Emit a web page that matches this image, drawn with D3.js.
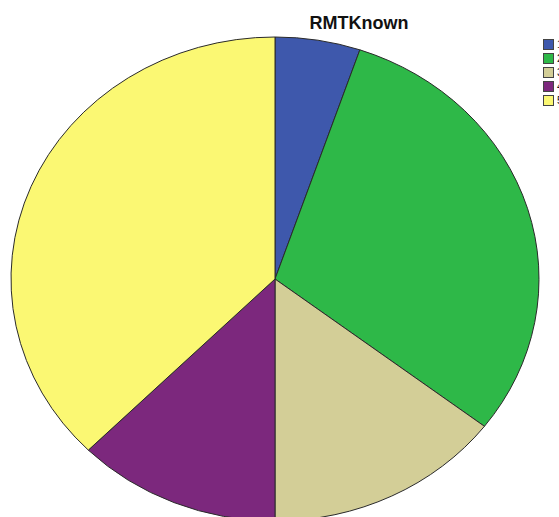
<!DOCTYPE html>
<html>
<head>
<meta charset="utf-8">
<script src="https://cdn.jsdelivr.net/npm/d3@7"></script>
<style>
  html, body { margin: 0; padding: 0; background: #ffffff; overflow: hidden; }
  svg { display: block; }
</style>
</head>
<body>
<script>
// Response categories and their counts for RMTKnown
const categories = ["1", "2", "3", "4", "5"];
const counts = [5, 29, 14, 12, 36];
const sliceColors = ["#3E58AC", "#2EB848", "#D3CE97", "#7C287D", "#FBF873"];
const chartTitle = "RMTKnown";

const width = 559, height = 517;
const cx = 275, cy = 279;
const rx = 264, ry = 242;

const svg = d3.select("body").append("svg")
  .attr("width", width)
  .attr("height", height);

const color = d3.scaleOrdinal().domain(categories).range(sliceColors);

const pie = d3.pie()
  .sort(null)
  .value(d => d.count)
  .startAngle(0)
  .endAngle(2 * Math.PI);

const data = categories.map((c, i) => ({ category: c, count: counts[i] }));

const arc = d3.arc().innerRadius(0).outerRadius(ry);

// Pie drawn as a circle of radius ry, then stretched horizontally into an ellipse
const pieGroup = svg.append("g")
  .attr("transform", `translate(${cx},${cy}) scale(${rx / ry},1)`);

pieGroup.selectAll("path")
  .data(pie(data))
  .join("path")
  .attr("d", arc)
  .attr("fill", d => color(d.data.category))
  .attr("stroke", "#2a2a2a")
  .attr("stroke-width", 1)
  .attr("stroke-linejoin", "round")
  .attr("vector-effect", "non-scaling-stroke");

// Title
svg.append("text")
  .attr("x", 359)
  .attr("y", 29)
  .attr("text-anchor", "middle")
  .attr("font-family", "Liberation Sans, Arial, sans-serif")
  .attr("font-weight", "bold")
  .attr("font-size", 18)
  .attr("fill", "#111")
  .text(chartTitle);

// Legend
const legend = svg.append("g").attr("transform", "translate(543,39)");
const item = legend.selectAll("g")
  .data(categories)
  .join("g")
  .attr("transform", (d, i) => `translate(0,${i * 14})`);

item.append("rect")
  .attr("x", 0.5)
  .attr("y", 0.5)
  .attr("width", 10)
  .attr("height", 10)
  .attr("fill", d => color(d))
  .attr("stroke", "#444")
  .attr("stroke-width", 1);

item.append("text")
  .attr("x", 14)
  .attr("y", 9)
  .attr("font-family", "Liberation Sans, Arial, sans-serif")
  .attr("font-size", 11)
  .attr("fill", "#111")
  .text(d => d);
</script>
</body>
</html>
